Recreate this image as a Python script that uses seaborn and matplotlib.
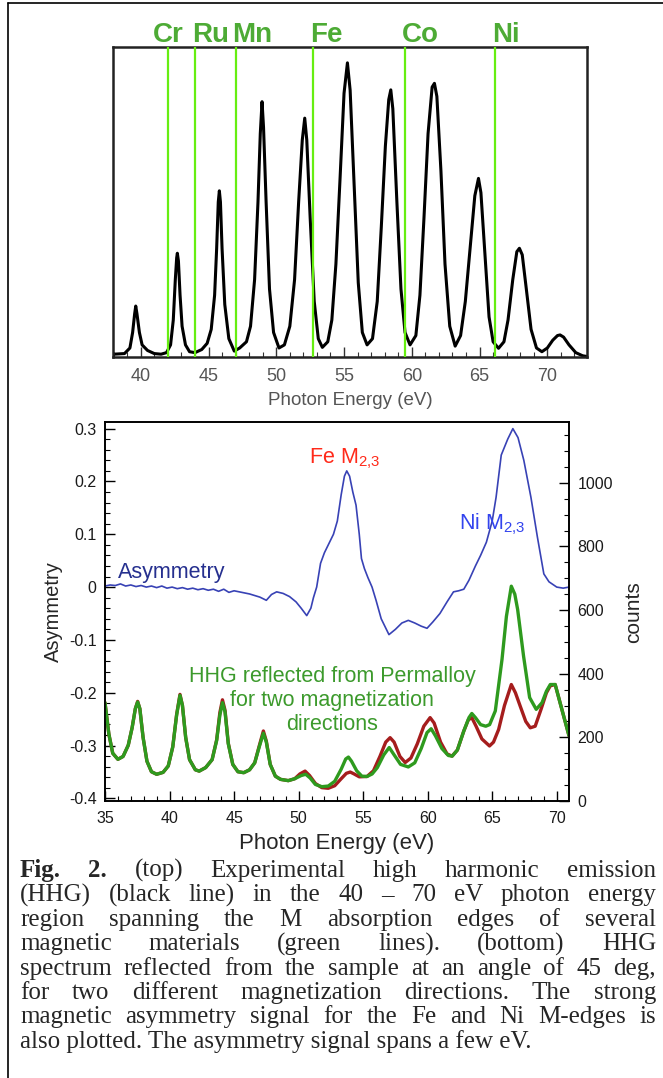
import matplotlib
matplotlib.use('Agg')
import matplotlib.pyplot as plt
import matplotlib.transforms as mtransforms
from matplotlib.lines import Line2D
from matplotlib.ticker import MultipleLocator
import seaborn as sns

# ---- top panel: HHG emission spectrum (arbitrary units) ----
hhg_ev = [38.0, 38.8, 39.2, 39.4, 39.55, 39.63, 39.72, 39.9, 40.1, 40.5,
          41.0, 41.5, 41.9, 42.2, 42.4, 42.55, 42.65, 42.7, 42.78, 42.9,
          43.05, 43.3, 43.6, 44.0, 44.5, 44.9, 45.2, 45.45, 45.6, 45.72,
          45.8, 45.88, 46.0, 46.2, 46.5, 46.9, 47.3, 47.8, 48.1, 48.4,
          48.65, 48.82, 48.95, 49.06, 49.25, 49.5, 49.8, 50.2, 50.6, 51.0,
          51.35, 51.65, 51.92, 52.1, 52.25, 52.5, 52.8, 53.1, 53.4, 53.8,
          54.1, 54.4, 54.7, 55.0, 55.25, 55.45, 55.75, 56.05, 56.35, 56.7,
          57.1, 57.45, 57.75, 58.05, 58.3, 58.45, 58.6, 58.9, 59.2, 59.5,
          59.87, 60.3, 60.6, 60.9, 61.2, 61.5, 61.67, 61.85, 62.15, 62.45,
          62.8, 63.2, 63.6, 63.95, 64.3, 64.65, 64.92, 65.1, 65.4, 65.7,
          66.0, 66.4, 66.8, 67.1, 67.45, 67.75, 67.94, 68.15, 68.45, 68.8,
          69.2, 69.6, 70.0, 70.4, 70.75, 70.94, 71.2, 71.6, 72.1, 72.6, 73.0]
hhg_intensity = [0.01, 0.012, 0.03, 0.08, 0.14, 0.165, 0.14, 0.08, 0.04, 0.022,
                 0.012, 0.01, 0.015, 0.04, 0.12, 0.25, 0.32, 0.335, 0.31, 0.2,
                 0.1, 0.04, 0.018, 0.015, 0.025, 0.045, 0.09, 0.2, 0.35, 0.5,
                 0.536, 0.5, 0.35, 0.17, 0.06, 0.02, 0.03, 0.05, 0.1, 0.25,
                 0.5, 0.72, 0.823, 0.74, 0.5, 0.22, 0.08, 0.03, 0.04, 0.1,
                 0.25, 0.5, 0.7, 0.77, 0.7, 0.45, 0.18, 0.06, 0.032, 0.05,
                 0.12, 0.3, 0.57, 0.85, 0.948, 0.86, 0.55, 0.24, 0.08, 0.04,
                 0.06, 0.18, 0.42, 0.68, 0.83, 0.861, 0.8, 0.5, 0.22, 0.08,
                 0.04, 0.07, 0.2, 0.45, 0.72, 0.87, 0.882, 0.84, 0.6, 0.3,
                 0.1, 0.036, 0.07, 0.18, 0.35, 0.52, 0.576, 0.53, 0.33, 0.13,
                 0.05, 0.029, 0.05, 0.12, 0.25, 0.34, 0.351, 0.33, 0.22, 0.09,
                 0.03, 0.018, 0.03, 0.055, 0.07, 0.072, 0.065, 0.04, 0.015, 0.005, 0.002]

edge_names = ['Cr', 'Ru', 'Mn', 'Fe', 'Co', 'Ni']
edge_ev = [42.0, 44.0, 47.0, 52.7, 59.5, 66.15]
top_ticks = [40, 45, 50, 55, 60, 65, 70]

# ---- bottom panel: asymmetry (left axis) ----
asym_ev = [35.0, 35.4, 35.8, 36.2, 36.6, 37.0, 37.4, 37.8, 38.2, 38.6,
           39.0, 39.4, 39.8, 40.2, 40.6, 41.0, 41.4, 41.8, 42.2, 42.6,
           43.0, 43.4, 43.8, 44.2, 44.6, 45.0, 45.4, 45.8, 46.2, 46.6,
           47.0, 47.5, 47.9, 48.3, 48.8, 49.3, 49.8, 50.2, 50.63, 50.95,
           51.15, 51.4, 51.7, 52.0, 52.3, 52.7, 53.0, 53.3, 53.55, 53.73,
           53.95, 54.2, 54.45, 54.7, 54.87, 55.1, 55.37, 55.69, 56.0, 56.4,
           57.0, 57.5, 58.0, 58.5, 59.0, 59.5, 59.95, 60.4, 60.95, 61.5,
           62.0, 62.4, 62.8, 63.2, 63.7, 64.1, 64.55, 65.0, 65.3, 65.7,
           66.2, 66.6, 67.0, 67.45, 68.0, 68.5, 69.0, 69.4, 70.0, 70.5, 70.95]
asym_value = [0.002, 0.004, 0.003, 0.006, 0.002, 0.004, 0.001, 0.003, 0.0, 0.002,
              -0.001, 0.002, -0.002, 0.0, -0.003, -0.001, -0.004, -0.002, -0.005, -0.003,
              -0.006, -0.004, -0.008, -0.004, -0.010, -0.007, -0.009, -0.011, -0.013, -0.016,
              -0.019, -0.025, -0.014, -0.009, -0.012, -0.018, -0.028, -0.040, -0.054, -0.040,
              -0.02, 0.0, 0.045, 0.065, 0.08, 0.10, 0.125, 0.175, 0.21, 0.22,
              0.21, 0.18, 0.155, 0.10, 0.054, 0.035, 0.018, 0.0, -0.025, -0.06,
              -0.09, -0.08, -0.068, -0.063, -0.068, -0.074, -0.078, -0.066, -0.05, -0.028,
              -0.009, -0.007, -0.004, 0.013, 0.04, 0.06, 0.085, 0.125, 0.17, 0.25,
              0.28, 0.30, 0.283, 0.24, 0.17, 0.095, 0.025, 0.01, 0.0, -0.002, 0.0]
asym_ticks = [-0.4, -0.3, -0.2, -0.1, 0.0, 0.1, 0.2, 0.3]
asym_tick_labels = ['-0.4', '-0.3', '-0.2', '-0.1', '0', '0.1', '0.2', '0.3']

# ---- bottom panel: reflected HHG counts (right axis) ----
green_ev = [35.0, 35.3, 35.6, 36.0, 36.4, 36.8, 37.1, 37.35, 37.53, 37.7,
            37.95, 38.25, 38.6, 39.0, 39.5, 39.9, 40.25, 40.55, 40.81, 41.0,
            41.25, 41.55, 42.0, 42.3, 42.8, 43.3, 43.65, 43.9, 44.1, 44.3,
            44.55, 44.9, 45.3, 45.75, 46.2, 46.6, 46.95, 47.27, 47.5, 47.8,
            48.2, 48.6, 49.2, 49.7, 50.2, 50.55, 50.9, 51.3, 51.8, 52.3,
            52.8, 53.3, 53.65, 53.86, 54.1, 54.5, 54.9, 55.3, 55.7, 56.1,
            56.6, 57.02, 57.4, 57.9, 58.5, 59.0, 59.5, 59.95, 60.27, 60.6,
            61.1, 61.6, 61.9, 62.3, 62.8, 63.2, 63.42, 63.7, 64.1, 64.5,
            64.8, 65.24, 65.76, 66.1, 66.48, 66.75, 66.97, 67.43, 67.9, 68.41,
            68.86, 69.2, 69.5, 69.88, 70.33, 70.95]
green_counts = [309, 210, 150, 131, 140, 175, 230, 290, 311, 290,
                200, 125, 92, 84, 90, 110, 170, 270, 332, 300,
                200, 130, 98, 94, 105, 130, 190, 270, 309, 280,
                180, 115, 92, 89, 98, 120, 170, 213, 185, 115,
                78, 68, 64, 70, 80, 84, 72, 52, 45, 47,
                62, 100, 132, 138, 125, 95, 78, 77, 85, 105,
                145, 168, 145, 115, 107, 120, 165, 215, 227, 205,
                165, 143, 141, 160, 220, 262, 275, 262, 240, 235,
                240, 283, 445, 580, 675, 650, 602, 455, 325, 288,
                309, 345, 366, 366, 298, 205]

red_ev = [35.0, 35.3, 35.6, 36.0, 36.4, 36.8, 37.1, 37.35, 37.53, 37.7,
          37.95, 38.25, 38.6, 39.0, 39.5, 39.9, 40.25, 40.55, 40.81, 41.0,
          41.25, 41.55, 42.0, 42.3, 42.8, 43.3, 43.65, 43.9, 44.1, 44.3,
          44.55, 44.9, 45.3, 45.75, 46.2, 46.6, 46.95, 47.27, 47.5, 47.8,
          48.2, 48.6, 49.2, 49.7, 50.1, 50.5, 50.85, 51.3, 51.8, 52.3,
          52.8, 53.3, 53.7, 54.0, 54.3, 54.7, 55.3, 55.8, 56.3, 56.75,
          57.09, 57.4, 57.85, 58.26, 58.7, 59.2, 59.7, 60.19, 60.5, 61.0,
          61.5, 61.89, 62.3, 62.8, 63.15, 63.42, 63.75, 64.2, 64.79, 65.1,
          65.5, 65.95, 66.48, 66.8, 67.17, 67.6, 67.95, 68.33, 68.8, 69.2,
          69.5, 69.88, 70.33, 70.95]
red_counts = [309, 210, 150, 131, 140, 175, 230, 290, 313, 290,
              200, 125, 92, 84, 90, 110, 170, 272, 335, 300,
              200, 130, 98, 94, 105, 130, 192, 278, 318, 285,
              182, 115, 92, 89, 98, 120, 173, 220, 188, 115,
              78, 68, 64, 70, 85, 94, 80, 55, 42, 40,
              48, 70, 87, 91, 85, 76, 77, 95, 140, 185,
              199, 185, 140, 121, 135, 180, 235, 262, 245, 185,
              148, 141, 160, 220, 255, 262, 235, 195, 173, 185,
              225, 300, 366, 340, 298, 250, 230, 235, 290, 340,
              362, 366, 298, 205]

hhg_note = ['HHG reflected from Permalloy', 'for two magnetization', 'directions']

caption_lines = [
    'Fig. 2. (top) Experimental high harmonic emission',
    '(HHG) (black line) in the 40 \u2013 70 eV photon energy',
    'region spanning the M absorption edges of several',
    'magnetic materials (green lines). (bottom) HHG',
    'spectrum reflected from the sample at an angle of 45 deg,',
    'for two different magnetization directions. The strong',
    'magnetic asymmetry signal for the Fe and Ni M-edges is',
    'also plotted. The asymmetry signal spans a few eV.',
]

W, H = 663, 1078

sns.set_style('ticks')
plt.rcParams['font.family'] = ['Liberation Sans', 'DejaVu Sans']
plt.rcParams['mathtext.default'] = 'regular'

fig = plt.figure(figsize=(W / 100, H / 100), dpi=100)
fig.patch.set_facecolor('white')

# ================= top panel =================
ax1 = fig.add_axes([112.7 / W, 1 - 357.3 / H, 474.6 / W, 310.6 / H])
sns.lineplot(x=hhg_ev, y=hhg_intensity, color='black', lw=2.2,
             estimator=None, ax=ax1, zorder=2)
for e in edge_ev:
    ax1.axvline(e, color='#66ee11', lw=1.6, zorder=3)

ax1.set_xlim(37.93, 72.95)
ax1.set_ylim(0, 1)
ax1.set_yticks([])
ax1.set_xticks(top_ticks)
ax1.xaxis.set_minor_locator(MultipleLocator(1))
ax1.tick_params(axis='x', which='both', direction='in', top=False,
                color='#333333', labelcolor='#555555', labelsize=13, pad=8)
ax1.tick_params(axis='x', which='major', length=7, width=1.0)
ax1.tick_params(axis='x', which='minor', length=3.5, width=0.8)
for sp in ax1.spines.values():
    sp.set_linewidth(1.8)
    sp.set_color('#222222')
ax1.set_xlabel('Photon Energy (eV)', fontsize=13.5, color='#555555', labelpad=5)
ax1.set_ylabel('')

trans = mtransforms.blended_transform_factory(ax1.transData, ax1.transAxes)
for name, e in zip(edge_names, edge_ev):
    if name == 'Cr':
        ax1.text(e, 1.016, name, transform=trans, ha='center', va='baseline',
                 fontsize=20, fontweight='bold', color='#4dab35')
    else:
        ax1.text(e - 0.23, 1.016, name, transform=trans, ha='left', va='baseline',
                 fontsize=20, fontweight='bold', color='#4dab35')

# ================= bottom panel =================
ax2 = fig.add_axes([105 / W, 1 - 801 / H, 464 / W, 378.7 / H])
ax3 = ax2.twinx()

sns.lineplot(x=asym_ev, y=asym_value, color='#3842b5', lw=1.2,
             estimator=None, ax=ax2)
sns.lineplot(x=red_ev, y=red_counts, color='#a51d1d', lw=2.4,
             estimator=None, ax=ax3)
sns.lineplot(x=green_ev, y=green_counts, color='#2e9a1e', lw=2.4,
             estimator=None, ax=ax3)

ax2.set_xlim(35, 70.95)
ax2.set_ylim(-0.405, 0.312)
ax3.set_ylim(0, 1190)

ax2.set_yticks(asym_ticks)
ax2.set_yticklabels(asym_tick_labels)
ax2.yaxis.set_minor_locator(MultipleLocator(0.02))
ax2.set_xticks(list(range(35, 71, 5)))
ax2.xaxis.set_minor_locator(MultipleLocator(1))
ax3.yaxis.set_major_locator(MultipleLocator(200))
ax3.yaxis.set_minor_locator(MultipleLocator(50))

for a in (ax2, ax3):
    a.tick_params(which='both', direction='in', color='black',
                  labelsize=11.5, labelcolor='#1a1a1a')
    a.tick_params(which='major', length=7, width=1.0)
    a.tick_params(which='minor', length=3.5, width=0.8)
    for sp in a.spines.values():
        sp.set_linewidth(1.2)
        sp.set_color('black')
ax2.tick_params(axis='x', pad=7)
ax2.tick_params(axis='y', pad=6)
ax3.tick_params(axis='y', pad=6)

ax2.set_xlabel('Photon Energy (eV)', fontsize=16, labelpad=5)
ax2.set_ylabel('Asymmetry', fontsize=14.5, labelpad=4)
ax3.set_ylabel('counts', fontsize=15, labelpad=8)

ax2.text(36.04, 0.018, 'Asymmetry', fontsize=15.5, color='#26308f',
         ha='left', va='baseline')
ax2.text(50.81, 0.234, 'Fe M$_{2{,}3}$', fontsize=15.5, color='#ff2a1a',
         ha='left', va='baseline')
ax2.text(62.42, 0.11, 'Ni M$_{2{,}3}$', fontsize=15.5, color='#3344ee',
         ha='left', va='baseline')
for i, line in enumerate(hhg_note):
    ax2.text(52.6, -0.179 - 0.046 * i, line, fontsize=15.5, color='#3c9a2c',
             ha='center', va='baseline')

# ================= outer frame =================
fig.add_artist(Line2D([8.3 / W, 8.3 / W], [0, 1 - 2.7 / H], color='black', lw=1.2))
fig.add_artist(Line2D([8.3 / W, 1], [1 - 2.7 / H, 1 - 2.7 / H], color='black', lw=1.2))

# ================= caption (justified) =================
fig.canvas.draw()
renderer = fig.canvas.get_renderer()
x_left, x_right = 20, 656
cap_size = 18
for i, line in enumerate(caption_lines):
    y = 1 - (877 + i * 24.4) / H
    if i == len(caption_lines) - 1:
        fig.text(x_left / W, y, line, fontsize=cap_size, family='Liberation Serif',
                 ha='left', va='baseline')
        continue
    words = line.split(' ')
    items = []
    for j, w in enumerate(words):
        bold = (i == 0 and j < 2)
        t = fig.text(0, y, w, fontsize=cap_size, family='Liberation Serif',
                     fontweight='bold' if bold else 'normal',
                     ha='left', va='baseline')
        items.append(t)
    widths = [t.get_window_extent(renderer).width for t in items]
    gap = (x_right - x_left - sum(widths)) / (len(items) - 1)
    x = x_left
    for t, wd in zip(items, widths):
        t.set_x(x / W)
        x += wd + gap

fig.savefig('out.png', dpi=100)
